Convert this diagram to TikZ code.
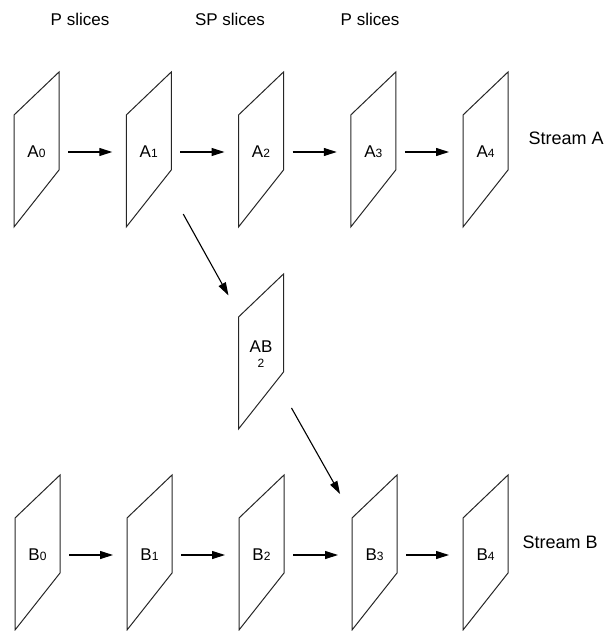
\documentclass[tikz,border=0pt]{standalone}
\usepackage{fontspec}
\setmainfont{Liberation Sans}
\usetikzlibrary{arrows.meta,calc}
\tikzset{
 frame/.style={draw=black!85, line width=1pt, line join=miter},
 lbl/.style={font=\fontsize{17}{17}\selectfont, inner sep=0pt, align=center},
 conn/.style={line width=1.1pt, -{Triangle[length=13pt,width=8pt]}},
 hconn/.style={conn, shorten <=31.5pt, shorten >=36.5pt},
 head/.style={font=\fontsize{17}{17}\selectfont, anchor=base},
 stream/.style={font=\fontsize{18}{18}\selectfont, anchor=west},
}
\newcommand\dgt[1]{{\fontsize{12}{12}\selectfont #1}}
\newcommand\slab[1]{\draw[frame] ($(#1)+(-22.5,-37)$) -- ($(#1)+(22.5,-80)$) -- ($(#1)+(22.5,18)$) -- ($(#1)+(-22.5,75)$) -- cycle;}
\begin{document}
\begin{tikzpicture}[x=1pt,y=-1pt]
\useasboundingbox (0,0) rectangle (607,631);
% headers
\node[head] (h1) at (80,26) {P slices};
\node[head] (h2) at (230,26) {SP slices};
\node[head] (h3) at (370,26) {P slices};
% stream A
\node[lbl] (A0) at (36.5,152) {A\dgt{0}};
\node[lbl] (A1) at (148.75,152) {A\dgt{1}};
\node[lbl] (A2) at (261,152) {A\dgt{2}};
\node[lbl] (A3) at (373.25,152) {A\dgt{3}};
\node[lbl] (A4) at (485.5,152) {A\dgt{4}};
% AB2
\node[lbl] (AB2) at (261,354) {AB\\[-2pt]\dgt{2}};
% stream B
\node[lbl] (B0) at (37.5,555) {B\dgt{0}};
\node[lbl] (B1) at (149.5,555) {B\dgt{1}};
\node[lbl] (B2) at (261.5,555) {B\dgt{2}};
\node[lbl] (B3) at (374.5,555) {B\dgt{3}};
\node[lbl] (B4) at (485.5,555) {B\dgt{4}};
% frames
\foreach \n in {A0,A1,A2,A3,A4,AB2,B0,B1,B2,B3,B4}{\slab{\n.center}}
% stream labels
\node[stream] (sA) at (525,138) {Stream A};
\node[stream] (sB) at (519,542) {Stream B};
% connectors
\draw[hconn] (A0.center) -- (A1.center);
\draw[hconn] (A1.center) -- (A2.center);
\draw[hconn] (A2.center) -- (A3.center);
\draw[hconn] (A3.center) -- (A4.center);
\draw[hconn] (B0.center) -- (B1.center);
\draw[hconn] (B1.center) -- (B2.center);
\draw[hconn] (B2.center) -- (B3.center);
\draw[hconn] (B3.center) -- (B4.center);
\draw[conn, shorten <=71pt, shorten >=67pt] (A1.center) -- (AB2.center);
\draw[conn, shorten <=62pt, shorten >=70pt] (AB2.center) -- (B3.center);
\end{tikzpicture}
\end{document}
